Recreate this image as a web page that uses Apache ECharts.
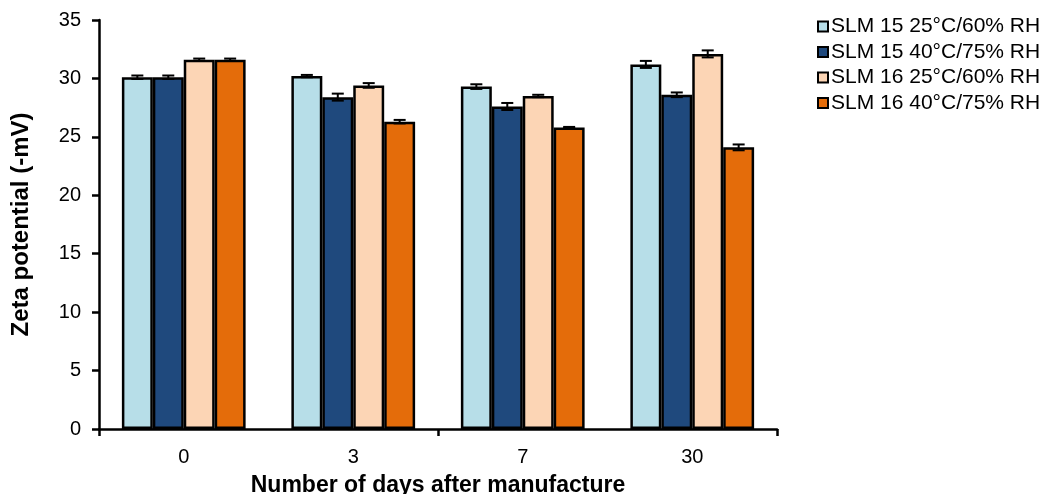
<!DOCTYPE html>
<html>
<head>
<meta charset="utf-8">
<script src="https://cdn.jsdelivr.net/npm/echarts@6/dist/echarts.min.js"></script>
<style>
  html, body { margin: 0; padding: 0; background: #fff; }
  #chart { width: 1047px; height: 494px; }
</style>
</head>
<body>
<div id="chart"></div>
<script>
// Days after manufacture
const days = ['0', '3', '7', '30'];

// Formulation / storage condition names
const seriesNames = [
  'SLM 15 25°C/60% RH',
  'SLM 15 40°C/75% RH',
  'SLM 16 25°C/60% RH',
  'SLM 16 40°C/75% RH'
];

// Mean zeta potential (-mV)
const slm15Cool = [30.1, 30.2, 29.3, 31.2];
const slm15Warm = [30.1, 28.4, 27.6, 28.6];
const slm16Cool = [31.6, 29.4, 28.5, 32.1];
const slm16Warm = [31.6, 26.3, 25.8, 24.1];

// Standard deviations
const slm15CoolSd = [0.15, 0.1, 0.2, 0.3];
const slm15WarmSd = [0.15, 0.3, 0.3, 0.2];
const slm16CoolSd = [0.1, 0.2, 0.1, 0.3];
const slm16WarmSd = [0.1, 0.15, 0.05, 0.25];

// Y axis ticks
const yMin = 0, yMax = 35, yStep = 5;

const means = [slm15Cool, slm15Warm, slm16Cool, slm16Warm];
const sds = [slm15CoolSd, slm15WarmSd, slm16CoolSd, slm16WarmSd];
const colors = ['#B7DEE8', '#1F497D', '#FCD5B5', '#E46C0A'];

const FONT = '"Liberation Sans", Arial, sans-serif';
const CAT_GAP = 0.27;           // share of each category left empty
const nSeries = means.length;

const barSeries = means.map((vals, i) => ({
  name: seriesNames[i],
  type: 'bar',
  data: vals,
  barGap: '0%',
  barCategoryGap: (CAT_GAP * 100) + '%',
  itemStyle: { color: colors[i], borderColor: '#000', borderWidth: 2.5 },
  z: 2
}));

// Error bars, placed over the matching bar inside each category
const errorSeries = means.map((vals, i) => ({
  type: 'custom',
  name: seriesNames[i] + ' sd',
  data: vals.map((v, k) => [k, v - sds[i][k], v + sds[i][k]]),
  z: 5,
  silent: true,
  renderItem: function (params, api) {
    const cat = api.value(0);
    const lo = api.coord([cat, api.value(1)]);
    const hi = api.coord([cat, api.value(2)]);
    const catW = api.size([1, 0])[0];
    const barW = catW * (1 - CAT_GAP) / nSeries;
    const x = lo[0] - catW * (1 - CAT_GAP) / 2 + barW * (i + 0.5);
    const half = 6;
    const style = { stroke: '#000', lineWidth: 2 };
    return {
      type: 'group',
      children: [
        { type: 'line', shape: { x1: x, y1: lo[1], x2: x, y2: hi[1] }, style },
        { type: 'line', shape: { x1: x - half, y1: lo[1], x2: x + half, y2: lo[1] }, style },
        { type: 'line', shape: { x1: x - half, y1: hi[1], x2: x + half, y2: hi[1] }, style }
      ]
    };
  }
}));

const chart = echarts.init(document.getElementById('chart'), null, { renderer: 'canvas' });
chart.setOption({
  animation: false,
  backgroundColor: '#fff',
  textStyle: { fontFamily: FONT, color: '#000' },
  grid: { left: 99, right: 270, top: 20, bottom: 65, containLabel: false, outerBoundsMode: 'none' },
  legend: {
    data: seriesNames,
    orient: 'vertical',
    left: 812,
    top: 11,
    icon: 'rect',
    itemWidth: 10,
    itemHeight: 10,
    itemGap: 4.5,
    itemStyle: { borderColor: '#000', borderWidth: 2 },
    textStyle: { fontFamily: FONT, fontSize: 21, color: '#000', padding: [0, 0, 0, -2] }
  },
  xAxis: {
    type: 'category',
    data: days,
    name: 'Number of days after manufacture',
    nameLocation: 'middle',
    nameGap: 45,
    nameTextStyle: { fontFamily: FONT, fontSize: 23, fontWeight: 'bold', color: '#000' },
    axisLine: { lineStyle: { color: '#000', width: 2.5 } },
    axisTick: { show: true, interval: 1, length: 7, lineStyle: { color: '#000', width: 2.5 } },
    axisLabel: { fontFamily: FONT, fontSize: 20, color: '#000', margin: 18 }
  },
  yAxis: {
    type: 'value',
    min: yMin,
    max: yMax,
    interval: yStep,
    name: 'Zeta potential (-mV)',
    nameLocation: 'middle',
    nameGap: 66,
    nameTextStyle: { fontFamily: FONT, fontSize: 24, fontWeight: 'bold', color: '#000' },
    axisLine: { show: true, lineStyle: { color: '#000', width: 2.5 } },
    axisTick: { show: true, length: 7, lineStyle: { color: '#000', width: 2.5 } },
    splitLine: { show: false },
    axisLabel: { fontFamily: FONT, fontSize: 20, color: '#000', margin: 18 }
  },
  series: barSeries.concat(errorSeries)
});
</script>
</body>
</html>
